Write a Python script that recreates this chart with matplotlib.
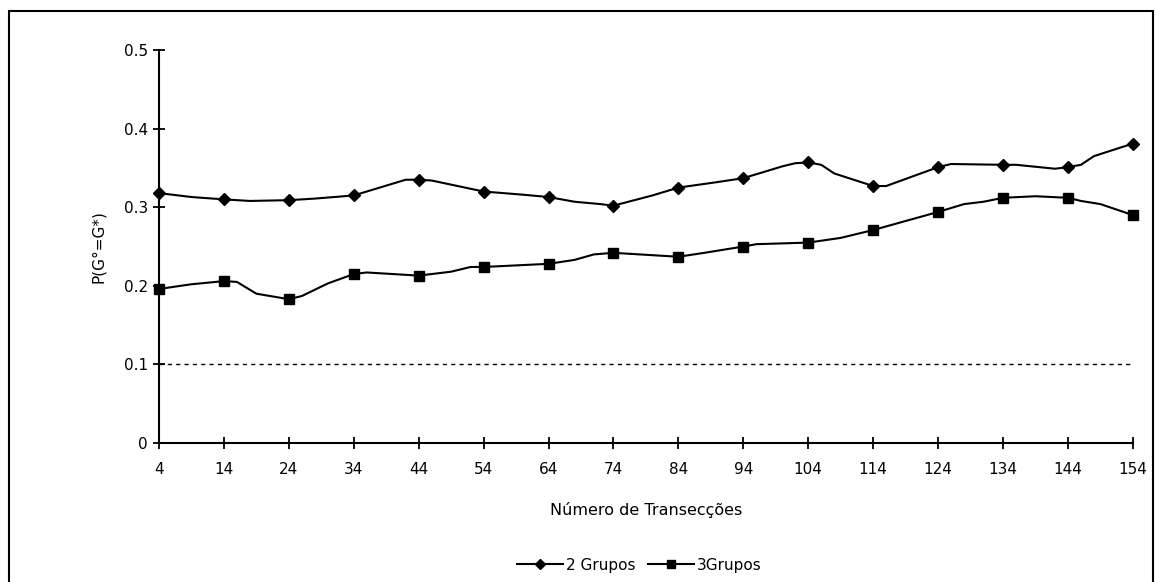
import matplotlib
matplotlib.use("Agg")
import matplotlib.pyplot as plt
from matplotlib.patches import Rectangle

plt.rcParams['font.family'] = ['DejaVu Sans']

# Data
x_2g = [4, 9, 14, 18, 24, 28, 34, 38, 42, 44, 46, 54, 60, 64, 68, 72, 74, 80, 84, 90, 94,
        100, 102, 104, 106, 108, 114, 116, 124, 126, 134, 136, 142, 144, 146, 148, 154]
y_2g = [0.318, 0.313, 0.310, 0.308, 0.309, 0.311, 0.315, 0.325, 0.335, 0.335, 0.334, 0.320,
        0.316, 0.313, 0.307, 0.304, 0.302, 0.315, 0.325, 0.332, 0.337,
        0.352, 0.356, 0.357, 0.354, 0.343, 0.327, 0.327, 0.351, 0.355, 0.354, 0.354,
        0.349, 0.351, 0.354, 0.365, 0.381]

x_3g = [4, 9, 14, 16, 19, 24, 26, 30, 34, 36, 40, 44, 49, 52, 54, 64, 68, 71, 74, 78, 84,
        88, 94, 96, 104, 109, 114, 124, 128, 131, 134, 139, 144, 146, 149, 154]
y_3g = [0.196, 0.202, 0.206, 0.205, 0.190, 0.183, 0.187, 0.203, 0.215, 0.217, 0.215, 0.213,
        0.218, 0.224, 0.224, 0.228, 0.233, 0.240, 0.242, 0.240, 0.237,
        0.242, 0.250, 0.253, 0.255, 0.261, 0.271, 0.294, 0.304, 0.307, 0.312, 0.314,
        0.312, 0.308, 0.304, 0.290]

x_ticks = list(range(4, 155, 10))
y_ticks = [0, 0.1, 0.2, 0.3, 0.4, 0.5]
y_tick_labels = ['0', '0.1', '0.2', '0.3', '0.4', '0.5']
ref_level = 0.1

fig = plt.figure(figsize=(11.56, 5.82), dpi=100)
ax = fig.add_axes([0.1375, 0.2388, 0.980 - 0.1375, 0.914 - 0.2388])

mk2 = [i for i, v in enumerate(x_2g) if v in x_ticks]
mk3 = [i for i, v in enumerate(x_3g) if v in x_ticks]

ax.plot(x_2g, y_2g, color='black', lw=1.5, marker='D', markersize=6.5,
        markevery=mk2, label='2 Grupos', clip_on=False, zorder=3)
ax.plot(x_3g, y_3g, color='black', lw=1.5, marker='s', markersize=7.5,
        markevery=mk3, label='3Grupos', clip_on=False, zorder=3)
ax.plot([x_ticks[0], x_ticks[-1]], [ref_level, ref_level], color='black', lw=1.0,
        linestyle=(0, (3, 3)), zorder=2)

ax.set_xlim(4, 154)
ax.set_ylim(0, 0.5)
ax.set_xticks(x_ticks)
ax.set_xticklabels([str(v) for v in x_ticks])
ax.set_yticks(y_ticks)
ax.set_yticklabels(y_tick_labels)
for s in ['top', 'right']:
    ax.spines[s].set_visible(False)
for s in ['left', 'bottom']:
    ax.spines[s].set_linewidth(1.5)
ax.tick_params(axis='both', direction='inout', length=8, width=1.3, labelsize=11,
               colors='black')
ax.tick_params(axis='x', pad=10)
ax.tick_params(axis='y', pad=4)

ax.set_xlabel('Número de Transecções', fontsize=11.5, labelpad=18)
ax.set_ylabel('P(G°=G*)', fontsize=11, labelpad=13)

leg = fig.legend(loc='center', bbox_to_anchor=(0.553, 0.029), ncol=2, frameon=False,
                 fontsize=11, handlelength=3.0, handletextpad=0.2, columnspacing=0.8,
                 markerscale=0.85)

fig.patches.append(Rectangle((9 / 1156, -5 / 582), (1153 - 9) / 1156, (576) / 582,
                             transform=fig.transFigure, fill=False, edgecolor='black',
                             lw=1.5))

fig.savefig('out.png', dpi=100)
